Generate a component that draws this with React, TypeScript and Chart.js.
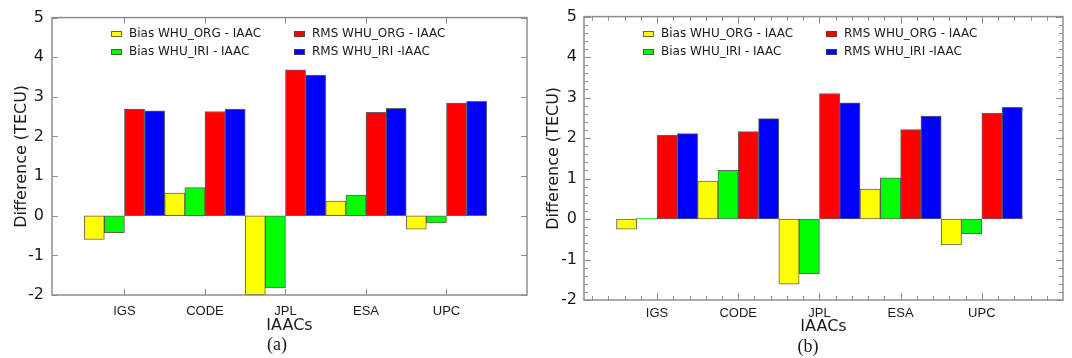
import React, { useEffect, useRef } from 'react';
import { Chart, registerables } from 'chart.js';

Chart.register(...registerables);

const categories = ['IGS', 'CODE', 'JPL', 'ESA', 'UPC'];
const seriesNames = ['Bias WHU_ORG - IAAC', 'Bias WHU_IRI - IAAC', 'RMS WHU_ORG - IAAC', 'RMS WHU_IRI -IAAC'];
const seriesColors = ['#ffff00', '#00ff00', '#ff0000', '#0000ff'];

// Panel (a)
const biasOrgA = [-0.60, 0.57, -1.99, 0.37, -0.34];
const biasIriA = [-0.43, 0.71, -1.82, 0.52, -0.18];
const rmsOrgA = [2.69, 2.63, 3.68, 2.61, 2.84];
const rmsIriA = [2.65, 2.69, 3.55, 2.71, 2.89];

// Panel (b)
const biasOrgB = [-0.25, 0.94, -1.61, 0.74, -0.64];
const biasIriB = [0.02, 1.20, -1.35, 1.02, -0.36];
const rmsOrgB = [2.07, 2.16, 3.10, 2.21, 2.61];
const rmsIriB = [2.11, 2.48, 2.87, 2.54, 2.76];

const yTickValues = [-2, -1, 0, 1, 2, 3, 4, 5];
const xAxisTitle = 'IAACs';
const yAxisTitle = 'Difference (TECU)';

type PanelCfg = {
  tag: string;
  series: number[][];
  width: number;
  yWidth: number;
  padTop: number;
  padRight: number;
  xHeight: number;
  yTickPad: number;
  xTickPad: number;
  yTitleX: number;
  xTitleY: number;
  tagX: number;
  tagY: number;
  minor: boolean;
};

const AXIS_COLOR = '#8e8e8e';
const TEXT_COLOR = '#1a1a1a';

function makeFramePlugin(cfg: PanelCfg) {
  return {
    id: 'frame_' + cfg.tag,
    afterDraw(chart: any) {
      const ctx = chart.ctx as CanvasRenderingContext2D;
      const { left, right, top, bottom } = chart.chartArea;
      const xs = chart.scales.x;
      const ys = chart.scales.y;
      ctx.save();
      ctx.strokeStyle = AXIS_COLOR;
      ctx.lineWidth = 1.5;
      ctx.strokeRect(left, top, right - left, bottom - top);
      ctx.lineWidth = 1;
      const major = cfg.minor ? 7 : 6;
      const minorLen = 4;
      const line = (x1: number, y1: number, x2: number, y2: number) => {
        ctx.beginPath();
        ctx.moveTo(x1, y1);
        ctx.lineTo(x2, y2);
        ctx.stroke();
      };
      categories.forEach((_, i) => {
        const px = Math.round(xs.getPixelForValue(i + 1)) + 0.5;
        line(px, bottom, px, bottom - major);
        line(px, top, px, top + major);
      });
      yTickValues.forEach((v) => {
        const py = Math.round(ys.getPixelForValue(v)) + 0.5;
        line(left, py, left + major, py);
        line(right, py, right - major, py);
      });
      if (cfg.minor) {
        for (let k = 1; k < 30; k++) {
          if (k % 5 === 0) continue;
          const v = k * 0.2;
          const px = Math.round(xs.getPixelForValue(v)) + 0.5;
          if (px <= left + 1 || px >= right - 1) continue;
          line(px, bottom, px, bottom - minorLen);
          line(px, top, px, top + minorLen);
        }
        for (let k = -10; k < 25; k++) {
          if (k % 5 === 0) continue;
          const v = k * 0.2;
          const py = Math.round(ys.getPixelForValue(v)) + 0.5;
          line(left, py, left + minorLen, py);
          line(right, py, right - minorLen, py);
        }
      }

      // Legend
      ctx.font = '12px "DejaVu Sans"';
      ctx.textBaseline = 'middle';
      ctx.textAlign = 'left';
      const legendPos = [
        { dx: 59, y: 34 },
        { dx: 59, y: 52 },
        { dx: 242, y: 34 },
        { dx: 242, y: 52 },
      ];
      seriesNames.forEach((name, i) => {
        const p = legendPos[i];
        ctx.fillStyle = seriesColors[i];
        ctx.fillRect(left + p.dx, p.y - 3, 11, 6);
        ctx.strokeStyle = 'rgba(70,70,70,0.8)';
        ctx.strokeRect(left + p.dx + 0.5, p.y - 2.5, 10, 5);
        ctx.fillStyle = TEXT_COLOR;
        ctx.fillText(name, left + p.dx + 18, p.y);
      });

      // Axis titles
      ctx.fillStyle = TEXT_COLOR;
      ctx.font = '16px "DejaVu Sans"';
      ctx.textAlign = 'center';
      ctx.textBaseline = 'middle';
      ctx.fillText(xAxisTitle, (left + right) / 2, cfg.xTitleY);
      ctx.save();
      ctx.translate(cfg.yTitleX, (top + bottom) / 2);
      ctx.rotate(-Math.PI / 2);
      ctx.fillText(yAxisTitle, 0, 0);
      ctx.restore();

      ctx.font = '18px "Liberation Serif"';
      ctx.fillText('(' + cfg.tag + ')', cfg.tagX, cfg.tagY);
      ctx.restore();
    },
  };
}

function Panel({ cfg }: { cfg: PanelCfg }) {
  const ref = useRef<HTMLCanvasElement | null>(null);
  useEffect(() => {
    if (!ref.current) return;
    const chart = new Chart(ref.current, {
      type: 'bar',
      data: {
        datasets: cfg.series.map((vals, i) => ({
          label: seriesNames[i],
          data: vals.map((v, j) => ({ x: j + 1, y: v })),
          backgroundColor: seriesColors[i],
          borderColor: 'rgba(70,70,70,0.85)',
          borderWidth: 1,
          borderSkipped: false,
          categoryPercentage: 1,
          barPercentage: 1,
        })),
      },
      options: {
        animation: false,
        responsive: false,
        maintainAspectRatio: false,
        layout: { padding: { top: cfg.padTop, right: cfg.padRight, left: 0, bottom: 0 } },
        plugins: { legend: { display: false }, tooltip: { enabled: false } },
        scales: {
          x: {
            type: 'linear',
            min: 0.1,
            max: 6,
            offset: false,
            grid: { display: false, drawTicks: false, offset: false },
            border: { display: false },
            afterBuildTicks: (s: any) => {
              s.ticks = categories.map((_, i) => ({ value: i + 1 }));
            },
            afterFit: (s: any) => {
              s.height = cfg.xHeight;
            },
            ticks: {
              autoSkip: false,
              maxRotation: 0,
              padding: cfg.xTickPad,
              color: TEXT_COLOR,
              font: { family: '"Liberation Sans"', size: 13 },
              callback: (v: any) => categories[Math.round(Number(v)) - 1] ?? '',
            },
          },
          y: {
            type: 'linear',
            min: -2,
            max: 5,
            grid: { display: false, drawTicks: false },
            border: { display: false },
            afterBuildTicks: (s: any) => {
              s.ticks = yTickValues.map((v) => ({ value: v }));
            },
            afterFit: (s: any) => {
              s.width = cfg.yWidth;
            },
            ticks: {
              padding: cfg.yTickPad,
              color: TEXT_COLOR,
              font: { family: '"DejaVu Sans"', size: 16 },
              callback: (v: any) => String(v),
            },
          },
        },
      } as any,
      plugins: [makeFramePlugin(cfg)],
    });
    return () => chart.destroy();
  }, [cfg]);
  return <canvas ref={ref} width={cfg.width} height={358} style={{ display: 'block', width: cfg.width, height: 358 }} />;
}

const panelA: PanelCfg = {
  tag: 'a',
  series: [biasOrgA, biasIriA, rmsOrgA, rmsIriA],
  width: 540,
  yWidth: 52,
  padTop: 15,
  padRight: 13,
  xHeight: 63,
  yTickPad: 8,
  xTickPad: 9,
  yTitleX: 22,
  xTitleY: 326,
  tagX: 277,
  tagY: 345,
  minor: false,
};

const panelB: PanelCfg = {
  tag: 'b',
  series: [biasOrgB, biasIriB, rmsOrgB, rmsIriB],
  width: 532,
  yWidth: 44,
  padTop: 16,
  padRight: 9,
  xHeight: 58,
  yTickPad: 7,
  xTickPad: 6,
  yTitleX: 14,
  xTitleY: 327,
  tagX: 268,
  tagY: 347,
  minor: true,
};

export default function App() {
  return (
    <div style={{ position: 'absolute', left: 0, top: 0, width: 1072, height: 358, background: '#fff', display: 'flex' }}>
      <Panel cfg={panelA} />
      <Panel cfg={panelB} />
    </div>
  );
}
